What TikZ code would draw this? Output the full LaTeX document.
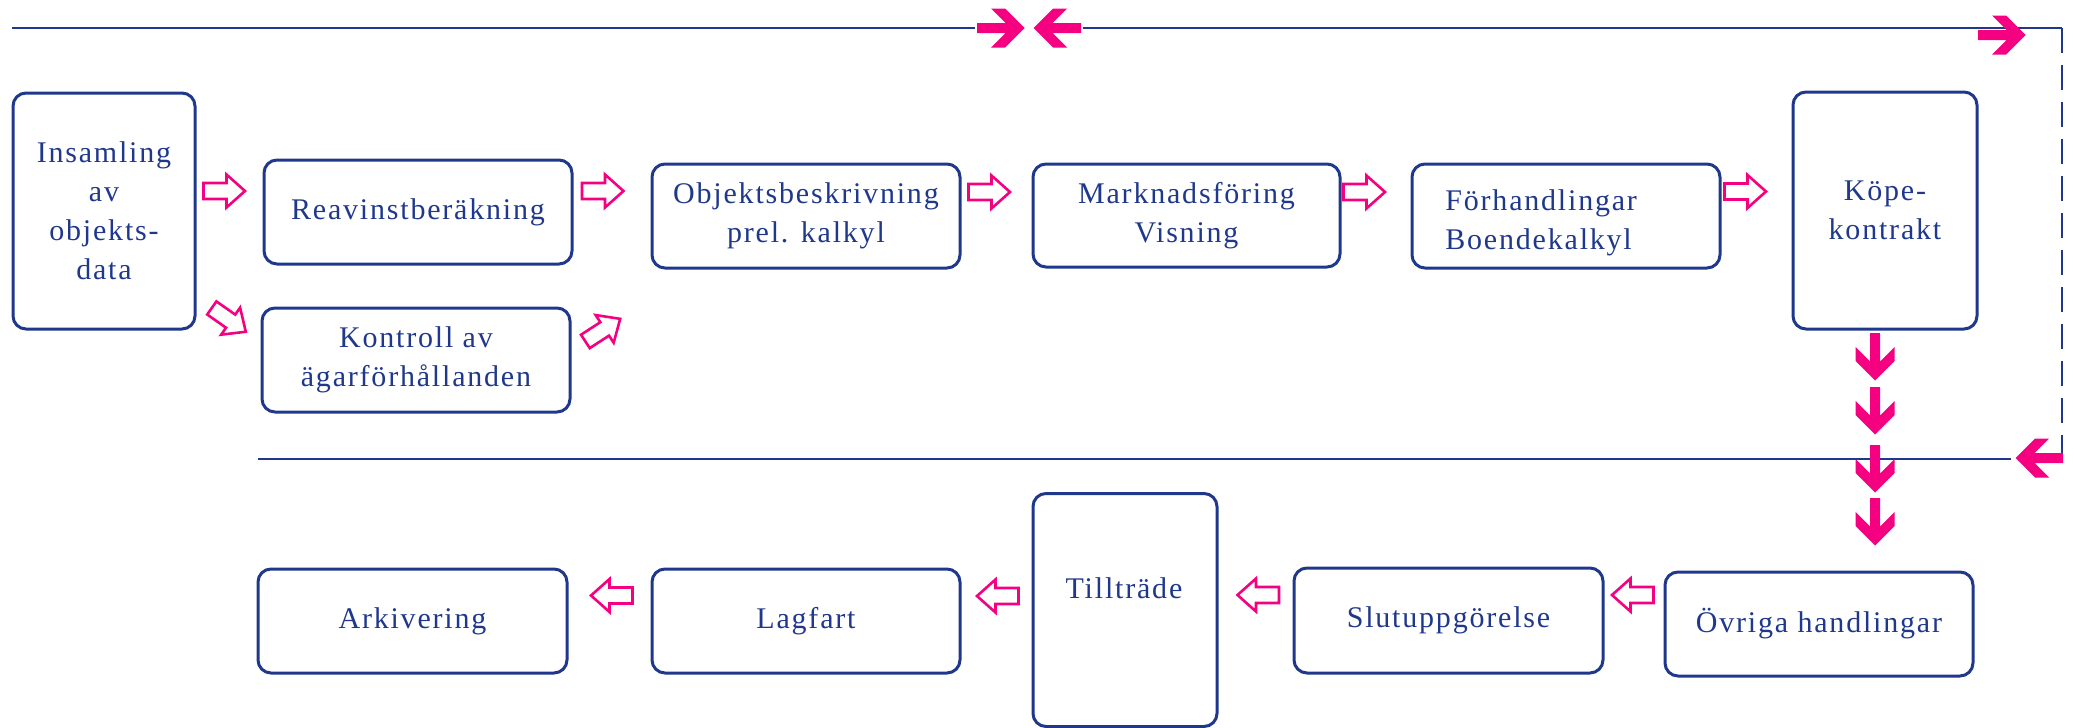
\documentclass[tikz,border=0pt]{standalone}
\usepackage{fontspec}
\setmainfont{Liberation Serif}[LetterSpace=6]
\definecolor{dnavy}{RGB}{31,56,140}
\definecolor{dpink}{RGB}{245,0,128}
\newcommand\mainf{\fontsize{15}{19.5}\selectfont}
\tikzset{
  box/.style={draw=dnavy, line width=1.5pt, rounded corners=6.5pt, inner sep=0pt, align=center, text=dnavy, font=\mainf},
  lbl/.style={text=dnavy, font=\mainf, align=center, inner sep=0pt},
  navline/.style={draw=dnavy, line width=1pt},
  hollowarr/.style={draw=dpink, line width=1.3pt, fill=white, miter limit=4},
  harrow/.pic={\path[hollowarr] (-21,-8) -- (2,-8) -- (2,-16.5) -- (20.5,0) -- (2,16.5) -- (2,8) -- (-21,8) -- cycle;},
  sarrow/.pic={\fill[dpink] (0,-5) -- (28.5,-5) -- (14,-19.5) -- (28,-19.5) -- (47.5,0) -- (28,19.5) -- (14,19.5) -- (28.5,5) -- (0,5) -- cycle;}
}
\begin{document}
\begin{tikzpicture}[x=0.5pt,y=-0.5pt]
\useasboundingbox (0,0) rectangle (2074,728);
% lines
\coordinate (tl) at (12,28);
\coordinate (tm1) at (975,28);
\coordinate (tm2) at (1083,28);
\coordinate (tr) at (2062,28);
\coordinate (br) at (2062,457);
\coordinate (bl) at (258,459);
\coordinate (bm) at (2011,459);
\draw[navline] (tl) -- (tm1);
\draw[navline] (tm2) -- (tr);
\draw[navline, dash pattern=on 12.5pt off 6pt] (tr) -- (br);
\draw[navline] (bl) -- (bm);
% boxes
\node[box, minimum width=91pt, minimum height=118pt] (ins) at (104,211) {Insamling\\av\\objekts-\\data};
\node[box, minimum width=154pt, minimum height=52pt] (reav) at (418,212) {Reavinstberäkning};
\node[box, minimum width=154pt, minimum height=52pt] (kont) at (416,360) {Kontroll av\\ägarförhållanden};
\node[box, minimum width=154pt, minimum height=52pt] (obj) at (806,216) {Objektsbeskrivning\\prel. kalkyl};
\node[box, minimum width=153.5pt, minimum height=51.5pt] (mark) at (1186.5,215.5) {Marknadsföring\\Visning};
\node[box, minimum width=154pt, minimum height=52pt] (forh) at (1566,216) {};
\node[lbl, align=left, anchor=west] (forht) at (1445,223) {Förhandlingar\\Boendekalkyl};
\node[box, minimum width=92pt, minimum height=118.5pt] (kope) at (1885,210.5) {Köpe-\\kontrakt};
\node[box, minimum width=154pt, minimum height=52pt] (ovr) at (1819,624) {Övriga handlingar};
\node[box, minimum width=154.5pt, minimum height=52.5pt] (slut) at (1448.5,620.5) {Slutuppgörelse};
\node[box, minimum width=92pt, minimum height=116.5pt] (till) at (1125,610) {};
\node[lbl] (tillt) at (1124,588) {Tillträde};
\node[box, minimum width=154pt, minimum height=52pt] (lag) at (806,621) {Lagfart};
\node[box, minimum width=154.5pt, minimum height=52pt] (ark) at (412.5,621) {Arkivering};
% hollow arrows
\pic at (224.5,191) {harrow};
\pic[rotate=-35] at (229,320) {harrow};
\pic at (603,191) {harrow};
\pic[rotate=33] at (603,330) {harrow};
\pic at (989.5,192) {harrow};
\pic at (1364.5,192) {harrow};
\pic at (1745.5,191.5) {harrow};
\pic[rotate=180] at (1632.5,595) {harrow};
\pic[rotate=180] at (1258,595) {harrow};
\pic[rotate=180] at (997.5,596) {harrow};
\pic[rotate=180] at (611.5,595.5) {harrow};
% solid arrows
\pic at (977,28) {sarrow};
\pic[rotate=180] at (1081,28) {sarrow};
\pic at (1978,35) {sarrow};
\pic[rotate=180] at (2063,458) {sarrow};
\pic[rotate=-90] at (1875,333) {sarrow};
\pic[rotate=-90] at (1875,387) {sarrow};
\pic[rotate=-90] at (1875,445) {sarrow};
\pic[rotate=-90] at (1875,498) {sarrow};
\end{tikzpicture}
\end{document}
